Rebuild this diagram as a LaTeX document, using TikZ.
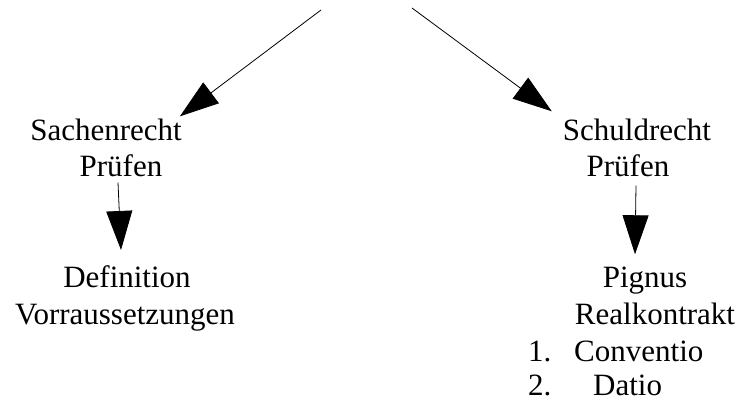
\documentclass[tikz,border=0pt]{standalone}
\usepackage{fontspec}
\setmainfont{Liberation Serif}
\usepackage{tikz}
\usetikzlibrary{positioning,arrows.meta}
\tikzset{
  txt/.style={anchor=base,inner sep=1pt,font=\fontsize{31}{36}\selectfont},
  txtl/.style={txt,anchor=base west},
  bigarrow/.style={-{Triangle[length=39pt,width=26pt]},line width=0.8pt}
}

\begin{document}
\begin{tikzpicture}[x=1pt,y=-1pt]
\useasboundingbox (0,0) rectangle (741,401);
\coordinate (topL) at (321,10);
\coordinate (topR) at (412,8);
\node[txt] (sachen) at (106,140) {Sachenrecht};
\node[txt] (pruefL) at (121,176) {Prüfen};
\node[txt] (schuld) at (637,140) {Schuldrecht};
\node[txt] (pruefR) at (628,176) {Prüfen};
\node[txt] (defn) at (127,287) {Definition};
\node[txt] (vorr) at (125,324) {Vorraussetzungen};
\node[txt] (pignus) at (645,287) {Pignus};
\node[txt] (real) at (655,324) {Realkontrakt};
\node[txtl] (num1) at (527,361) {1.};
\node[txtl] (conv) at (573,361) {Conventio};
\node[txtl] (num2) at (527,395) {2.};
\node[txtl] (datio) at (592,395) {Datio};
\draw[bigarrow] (topL) -- ([shift={(-3pt,1pt)}]sachen.north east);
\draw[bigarrow] (topR) -- ([shift={(-10pt,6pt)}]schuld.north west);
\draw[bigarrow] ([shift={(-3pt,-5pt)}]pruefL.south) -- ([shift={(-6pt,14pt)}]defn.north);
\draw[bigarrow] ([shift={(8pt,-8pt)}]pruefR.south) -- ([shift={(-10pt,11pt)}]pignus.north);
\end{tikzpicture}
\end{document}
